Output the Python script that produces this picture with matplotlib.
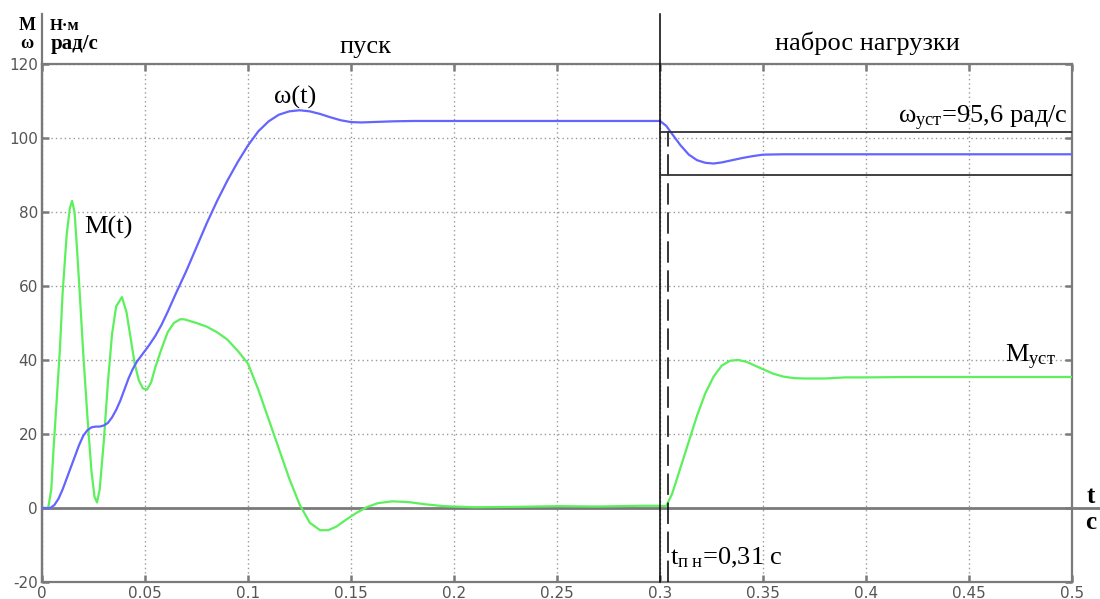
import matplotlib
matplotlib.use('Agg')
import matplotlib.pyplot as plt

plt.rcParams['mathtext.fontset'] = 'custom'
plt.rcParams['mathtext.rm'] = 'Liberation Serif'
plt.rcParams['mathtext.it'] = 'Liberation Serif:italic'
plt.rcParams['axes.unicode_minus'] = False

# момент M(t), Н·м
t_m = [0, 0.003, 0.0045, 0.0055, 0.007, 0.0087, 0.010, 0.012, 0.0135, 0.0146,
       0.0158, 0.017, 0.018, 0.020, 0.022, 0.024, 0.0255, 0.0267, 0.028, 0.030,
       0.032, 0.034, 0.036, 0.0388, 0.041, 0.043, 0.045, 0.047, 0.049, 0.051,
       0.053, 0.055, 0.058, 0.061, 0.064, 0.067, 0.069, 0.075, 0.080, 0.085,
       0.090, 0.095, 0.100, 0.105, 0.110, 0.115, 0.120, 0.125, 0.130, 0.135,
       0.139, 0.143, 0.148, 0.153, 0.158, 0.163, 0.170, 0.178, 0.186, 0.195,
       0.21, 0.23, 0.25, 0.27, 0.29, 0.300, 0.303, 0.306, 0.310, 0.314,
       0.318, 0.322, 0.326, 0.330, 0.334, 0.338, 0.342, 0.346, 0.350, 0.355,
       0.360, 0.365, 0.37, 0.38, 0.39, 0.40, 0.42, 0.45, 0.5]
m_val = [0, 0, 5, 15, 28, 43, 58, 74, 81, 83,
         80, 70, 61, 42, 25, 10, 3, 1.5, 5, 18,
         34, 47, 54.5, 57, 53, 46, 39, 34.5, 32.3, 32,
         34, 38, 43, 47.5, 50, 51, 51, 50, 49, 47.5,
         45.5, 42.5, 39, 32, 24, 16, 8, 1, -4, -6,
         -6, -5, -3, -1.2, 0.3, 1.3, 1.8, 1.6, 1.0, 0.5,
         0.2, 0.3, 0.5, 0.4, 0.6, 0.6, 0.5, 4, 11, 18,
         25, 31, 35.5, 38.5, 39.8, 40, 39.5, 38.5, 37.5, 36.3,
         35.5, 35.1, 35, 35, 35.3, 35.3, 35.4, 35.4, 35.4]

# скорость ω(t), рад/с
t_w = [0, 0.004, 0.006, 0.008, 0.010, 0.012, 0.014, 0.016, 0.018, 0.020,
       0.022, 0.024, 0.026, 0.028, 0.030, 0.032, 0.034, 0.036, 0.038, 0.040,
       0.042, 0.044, 0.046, 0.048, 0.050, 0.052, 0.055, 0.058, 0.061, 0.065,
       0.070, 0.075, 0.080, 0.085, 0.090, 0.095, 0.100, 0.105, 0.110, 0.115,
       0.120, 0.125, 0.130, 0.135, 0.140, 0.145, 0.150, 0.155, 0.160, 0.170,
       0.180, 0.200, 0.250, 0.300, 0.303, 0.306, 0.310, 0.314, 0.318, 0.322,
       0.326, 0.330, 0.335, 0.340, 0.345, 0.350, 0.36, 0.5]
w_val = [0, 0, 0.8, 2.5, 5, 8, 11, 14, 17, 19.5,
         21, 21.8, 22, 22, 22.3, 23, 24.5, 26.5, 29, 32,
         35, 37.5, 39.5, 41, 42.5, 44, 46.5, 49.5, 53, 58,
         64, 70.5, 77, 83, 88.5, 93.5, 98, 101.8, 104.5, 106.3,
         107.2, 107.5, 107.2, 106.5, 105.6, 104.8, 104.3, 104.2, 104.3, 104.5,
         104.6, 104.6, 104.6, 104.6, 103.3, 101, 98, 95.5, 94, 93.3,
         93.1, 93.4, 94, 94.6, 95.1, 95.5, 95.6, 95.6]

t_load = 0.3       # момент наброса нагрузки
t_pn = 0.3037      # граница переходного процесса
band = [90, 101.5] # зона установившейся скорости
x_ticks = [0, 0.05, 0.1, 0.15, 0.2, 0.25, 0.3, 0.35, 0.4, 0.45, 0.5]
x_labels = ['0', '0.05', '0.1', '0.15', '0.2', '0.25', '0.3', '0.35', '0.4', '0.45', '0.5']
y_ticks = [-20, 0, 20, 40, 60, 80, 100, 120]

fig = plt.figure(figsize=(11, 5.99), dpi=100)
ax = fig.add_axes([42 / 1100, 1 - 582 / 599, 1030 / 1100, 518 / 599])
ax.set_xlim(0, 0.5)
ax.set_ylim(-20, 120)

grey = '#7a7a7a'
for s in ax.spines.values():
    s.set_color(grey)
    s.set_linewidth(1.6)

ax.set_xticks(x_ticks)
ax.set_xticklabels(x_labels)
ax.set_yticks(y_ticks)
ax.tick_params(direction='in', length=5, width=1.8, color=grey,
               top=True, right=True, labelsize=11, labelcolor='#555555', pad=3)
for lab in ax.get_xticklabels() + ax.get_yticklabels():
    lab.set_family('DejaVu Sans')
ax.grid(True, color='#999999', linestyle=(0, (1, 2.2)), linewidth=1)

# ось времени, продлённая за рамку
ax.plot([0, 0.5136], [0, 0], color=grey, lw=2, clip_on=False, zorder=2)
# вертикали шапки
ax.plot([0, 0], [-20, 133.5], color=grey, lw=1.6, clip_on=False, zorder=2)
ax.plot([t_load, t_load], [-20, 133.5], color='black', lw=1.1, clip_on=False, zorder=4)
ax.plot([t_pn, t_pn], [-20, band[1] + 0.3], color='black', lw=1.1,
        dashes=(14, 5), zorder=4)
for b in band:
    ax.plot([t_load, 0.5], [b, b], color='#333333', lw=1.3, zorder=4)

ax.plot(t_m, m_val, color='#5cf05c', lw=1.6, zorder=3)
ax.plot(t_w, w_val, color='#6464ff', lw=1.6, zorder=3)

serif = 'Liberation Serif'
ax.text(0.157, 124.6, 'пуск', family=serif, fontsize=19, ha='center', va='center')
ax.text(0.4005, 125.7, 'наброс нагрузки', family=serif, fontsize=19, ha='center', va='center')
ax.text(-0.0073, 130.4, 'M', family=serif, fontsize=13, fontweight='bold', ha='center', va='center')
ax.text(-0.0073, 125.6, 'ω', family=serif, fontsize=13, fontweight='bold', ha='center', va='center')
ax.text(0.004, 130.4, 'Н·м', family=serif, fontsize=12, fontweight='bold', ha='left', va='center')
ax.text(0.004, 125.3, 'рад/с', family=serif, fontsize=15, fontweight='bold', ha='left', va='center')

ax.text(0.123, 111, 'ω(t)', family=serif, fontsize=19, ha='center', va='center')
ax.text(0.032, 75.7, 'M(t)', family=serif, fontsize=19, ha='center', va='center')
ax.text(0.4796, 40.8, r'M$_{\mathrm{уст}}$', family=serif, fontsize=19, ha='center', va='center')
ax.text(0.498, 105.4, r'ω$_{\mathrm{уст}}$=95,6 рад/с', family=serif, fontsize=19,
        ha='right', va='center')
ax.text(0.305, -13.5, r't$_{\mathrm{п\ н}}$=0,31 с', family=serif, fontsize=19,
        ha='left', va='center')
ax.text(0.509, 3.2, 't', family=serif, fontsize=18, fontweight='bold', ha='center', va='center')
ax.text(0.509, -3.8, 'с', family=serif, fontsize=18, fontweight='bold', ha='center', va='center')

fig.savefig('out.png', dpi=100)
